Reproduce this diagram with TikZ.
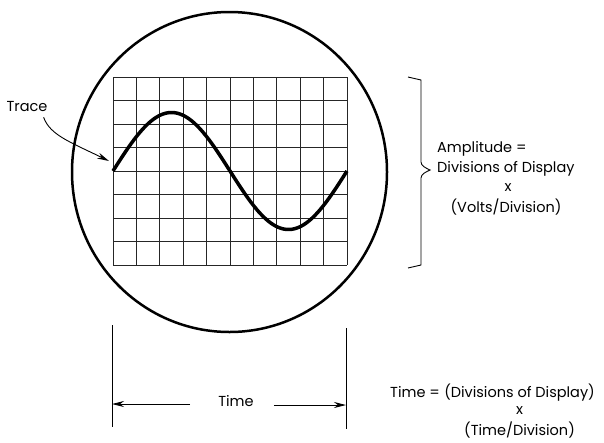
\documentclass[tikz,border=0pt]{standalone}
\usepackage{fontspec}
\setmainfont{Poppins}
\usetikzlibrary{arrows.meta}
\begin{document}
\begin{tikzpicture}[x=1pt,y=-1pt,
  gridline/.style={line width=0.8pt,black!85},
  screen/.style={line width=2.5pt},
  tracecurve/.style={line width=3.5pt},
  thin line/.style={line width=0.9pt},
  arr/.style={-{Stealth[length=12pt,width=6pt]},line width=0.9pt},
  lbl/.style={font=\fontsize{14.5}{16}\selectfont,inner sep=0pt}]
\useasboundingbox[fill=white] (0,0) rectangle (604,442);
% screen
\draw[screen] (229.5,172) ellipse [x radius=157.5, y radius=160];
% graticule
\foreach \i in {0,...,10} \draw[gridline] ({113+23.4*\i},77) -- ({113+23.4*\i},265);
\foreach \j in {0,...,8} \draw[gridline] (113,{77+23.5*\j}) -- (347,{77+23.5*\j});
% trace
\draw[tracecurve] plot[domain=0:360,samples=120] ({113+\x/360*234},{171-58.5*sin(\x)});
% trace label
\node[lbl] (tracelbl) at (27,107) {Trace};
\coordinate (tracetip) at (109,161);
\draw[arr] (tracelbl.south east) ++(-4,5) .. controls (50,135) and (70,142) .. (tracetip);
% brace
\coordinate (btop) at (408,77);
\coordinate (bbot) at (408,268);
\coordinate (btip) at (430,170);
\draw[thin line] (btop) -- (421,80) -- (421,162) .. controls (421,166) and (426,168) .. (btip)
  .. controls (426,172) and (421,174) .. (421,178) -- (421,265) -- (bbot);
\node[lbl,anchor=west] (amp1) at (437,149) {Amplitude =};
\node[lbl,anchor=west] (amp2) at (437,169) {Divisions of Display};
\node[lbl] (amp3) at (508,188) {x};
\node[lbl] (amp4) at (506,207) {(Volts/Division)};
% time dimension
\coordinate (l1) at (112,325);
\coordinate (l2) at (112,427);
\coordinate (r1) at (346,328);
\coordinate (r2) at (346,429);
\draw[thin line] (l1) -- (l2);
\draw[thin line] (r1) -- (r2);
\node[lbl] (timelbl) at (236,401) {Time};
\coordinate (la) at (112,404);
\coordinate (ra) at (346,405);
\draw[arr] (timelbl.west) ++(-28,3) -- (la);
\draw[arr] (timelbl.east) ++(20,4) -- (ra);
% time formula
\node[lbl,anchor=west] (t1a) at (390,392) {Time =};
\node[lbl,anchor=base west] (t1b) at ([xshift=4pt]t1a.base east) {(Divisions of Display)};
\node[lbl] (t2) at (t1b.center |- 0,411) {x};
\node[lbl] (t3) at (t1b.center |- 0,430) {(Time/Division)};
\end{tikzpicture}
\end{document}
